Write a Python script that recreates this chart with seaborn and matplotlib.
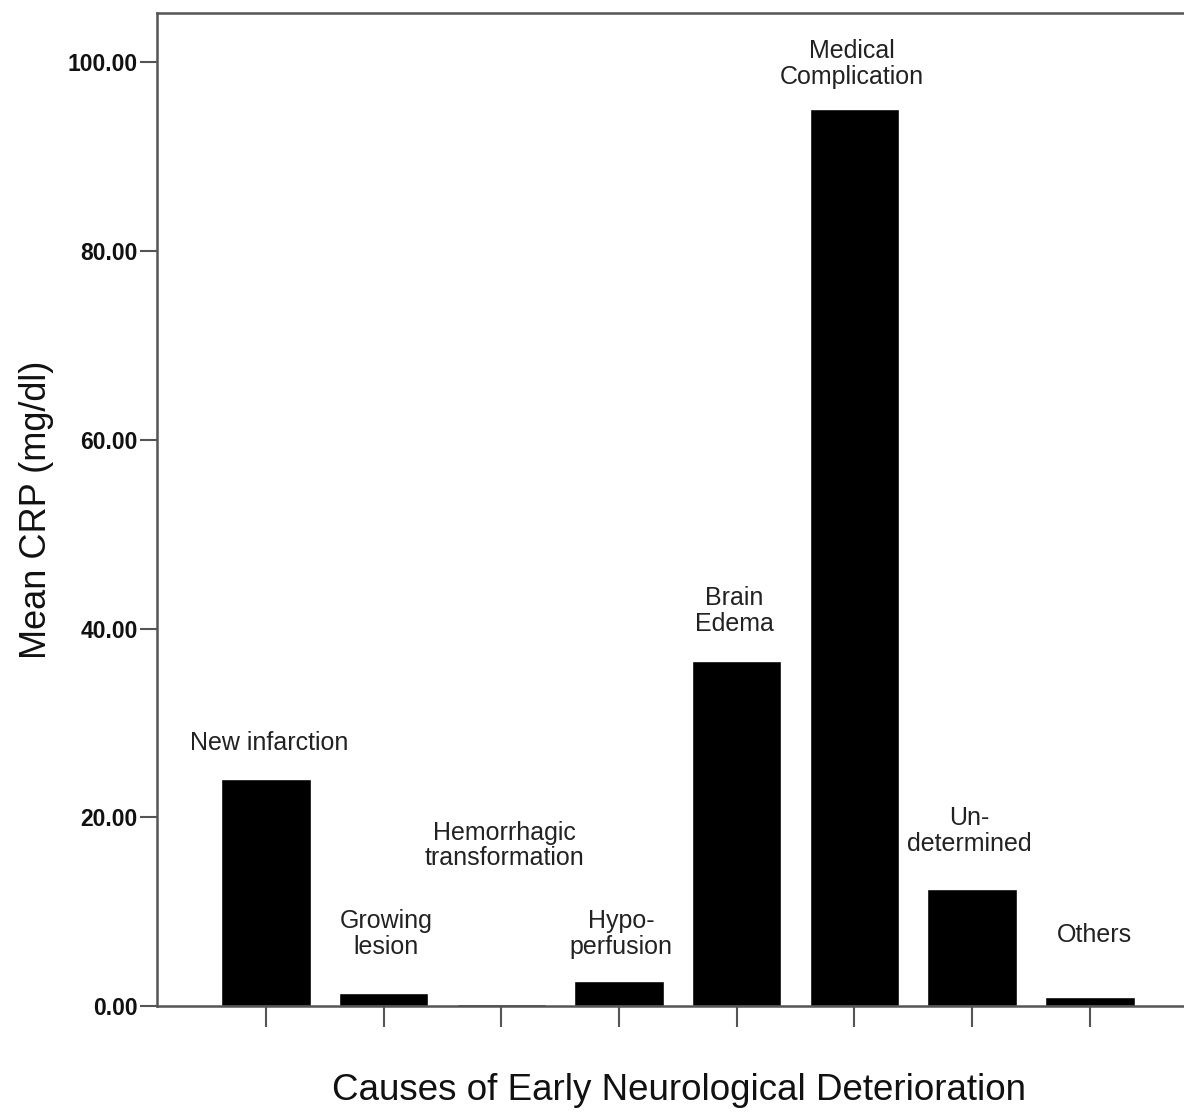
import matplotlib
matplotlib.use("Agg")
import matplotlib.pyplot as plt
from matplotlib import font_manager
import seaborn as sns

# values
causes = ["New infarction", "Growing lesion", "Hemorrhagic transformation",
          "Hypoperfusion", "Brain Edema", "Medical Complication",
          "Undetermined", "Others"]
mean_crp = [24.0, 1.4, 0.25, 2.65, 36.6, 95.1, 12.4, 0.95]

# text written above each bar and where it sits (data units)
bar_labels = ["New infarction", "Growing\nlesion", "Hemorrhagic\ntransformation",
              "Hypo-\nperfusion", "Brain\nEdema", "Medical\nComplication",
              "Un-\ndetermined", "Others"]
label_y = [27.9, 7.6, 17.0, 7.6, 41.9, 99.8, 18.5, 7.5]
label_dx = [0.03, 0.02, 0.03, 0.02, -0.02, -0.02, -0.02, 0.04]

y_ticks = [0, 20, 40, 60, 80, 100]

sns.set_theme(style="white")
names = {f.name for f in font_manager.fontManager.ttflist}
tick_font = "Liberation Sans Narrow" if "Liberation Sans Narrow" in names else "Liberation Sans"
plt.rcParams["font.family"] = ["Liberation Sans", "DejaVu Sans"]

fig = plt.figure(figsize=(11.84, 11.14), dpi=100)
ax = fig.add_axes([0.1326, 0.097, 0.8674, 0.891])

sns.barplot(x=causes, y=mean_crp, color="black", saturation=1, width=0.76, ax=ax)

for i, (txt, yy) in enumerate(zip(bar_labels, label_y)):
    ax.text(i + label_dx[i], yy, txt, ha="center", va="center", fontsize=18,
            color="#222222", linespacing=1.1)

ax.set_xlim(-0.926, 7.8)
ax.set_ylim(0, 105.2)
ax.set_yticks(y_ticks)
ax.set_yticklabels([f"{v:.2f}" for v in y_ticks], fontfamily=tick_font,
                   fontweight="bold", fontsize=19 if tick_font.endswith("Narrow") else 16.5,
                   color="#111111")
ax.set_xticks(range(len(causes)))
ax.set_xticklabels([])

ax.spines["right"].set_visible(False)
for side in ["left", "top", "bottom"]:
    ax.spines[side].set_color("#555555")
    ax.spines[side].set_linewidth(1.8)

ax.tick_params(axis="y", direction="out", length=12, width=1.5, color="#555555",
               pad=2, left=True)
ax.tick_params(axis="x", direction="out", length=15, width=1.5, color="#555555",
               bottom=True)

ax.set_xlabel("Causes of Early Neurological Deterioration", fontsize=26.5,
              color="#111111")
ax.xaxis.set_label_coords(0.508, -0.068)
ax.set_ylabel("Mean CRP (mg/dl)", fontsize=26, color="#111111", labelpad=10)

fig.savefig("out.png", dpi=100, facecolor="white")
